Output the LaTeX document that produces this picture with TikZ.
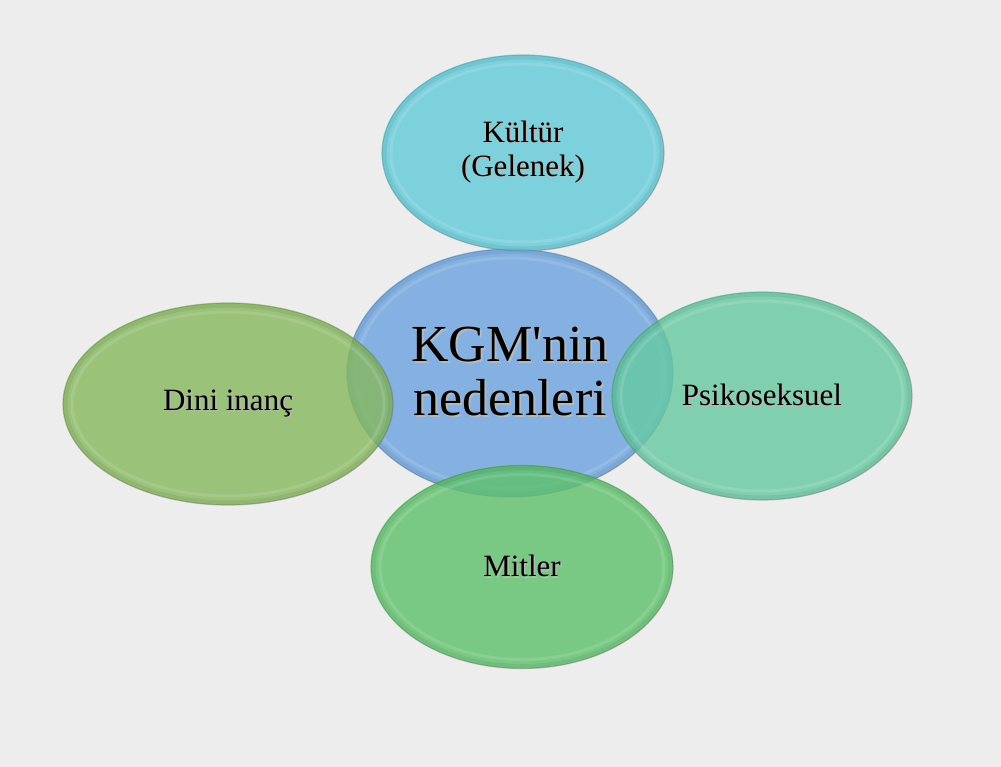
\documentclass[tikz,border=0pt]{standalone}
\usepackage{fontspec}
\setmainfont{Liberation Serif}
\usetikzlibrary{shapes.geometric}
\definecolor{bg}{RGB}{237,237,237}
\definecolor{ctop}{RGB}{96,203,216}
\definecolor{ccen}{RGB}{106,163,223}
\definecolor{cleft}{RGB}{134,184,93}
\definecolor{cright}{RGB}{101,201,161}
\definecolor{cbot}{RGB}{93,193,106}
\newcommand{\shtext}[2][1.5pt]{\makebox[0pt][l]{\hspace{#1}\raisebox{-#1}{\textcolor{black!28}{#2}}}#2}
\tikzset{
  blob/.style n args={3}{ellipse, inner sep=0pt, outer sep=0pt,
    minimum width=#1pt, minimum height=#2pt,
    fill=#3, fill opacity=0.8, text opacity=1,
    draw=#3!70!black, draw opacity=0.45, line width=1.2pt,
    align=center, text=black,
    path picture={\draw[line width=9pt, black, opacity=0.06]
      (path picture bounding box.center) ellipse [x radius=#1/2, y radius=#2/2];
      \draw[line width=3pt, white, opacity=0.12]
      (path picture bounding box.center) ellipse [x radius=#1/2-9, y radius=#2/2-9];}},
  small/.style={font=\fontsize{31}{34}\selectfont},
  big/.style={font=\fontsize{52}{54}\selectfont}
}
\begin{document}
\begin{tikzpicture}[x=1pt,y=-1pt]
\fill[bg] (0,0) rectangle (1001,767);
\useasboundingbox (0,0) rectangle (1001,767);
\node[blob={326}{248}{ccen}, big] (center) at (510,373)
  {\shtext[2pt]{KGM\textquotesingle nin}\\\shtext[2pt]{nedenleri}};
\node[blob={282}{196}{ctop}, small] (kultur) at (523,153)
  {\shtext{Kültür}\\\shtext{(Gelenek)}};
\node[blob={330}{202}{cleft}, small] (dini) at (228,404)
  {\shtext{Dini inanç}};
\node[blob={300}{208}{cright}, small] (psiko) at (762,396)
  {\shtext{Psikoseksuel}};
\node[blob={302}{203}{cbot}, small] (mitler) at (522,567)
  {\shtext{Mitler}};
\end{tikzpicture}
\end{document}
